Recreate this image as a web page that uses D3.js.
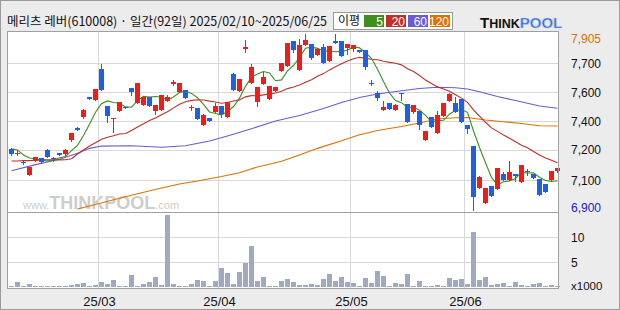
<!DOCTYPE html>
<html><head><meta charset="utf-8">
<script src="https://cdn.jsdelivr.net/npm/d3@7"></script>
<style>html,body{margin:0;padding:0;background:#ececec;}svg{display:block}</style>
</head><body>
<svg id="c" width="620" height="310"></svg>
<script>
// ---------- data ----------
const titleText = "메리츠 레버(610008) · 일간(92일) 2025/02/10~2025/06/25";
const maLabels = ["5", "20", "60", "120"];
const openP = [7250,7220,7175,7100,7180,7195,7245,7195,7225,7220,7300,7370,7430,7545,7530,7705,7495,7420,7465,7490,
7595,7510,7500,7545,7465,7470,7520,7620,7575,7585,7480,7480,7385,7425,7460,7495,7430,7675,7580,7820,
7625,7515,7620,7535,7580,7695,7725,7865,7700,7840,7850,7785,7830,7750,7865,7865,7825,7820,7815,7815,
7625,7570,7470,7510,7470,7570,7505,7460,7465,7300,7430,7340,7435,7525,7510,7535,7385,7265,7025,6940,
7035,7020,7105,7070,7105,7060,7125,7105,7075,7050,7070,7125];
const highP = [7255,7245,7180,7145,7205,7195,7250,7205,7225,7250,7340,7375,7475,7545,7590,7735,7495,7425,7515,7490,
7595,7625,7545,7545,7500,7555,7555,7640,7625,7585,7500,7480,7450,7425,7510,7495,7515,7680,7650,7870,
7735,7600,7690,7610,7605,7740,7855,7865,7875,7905,7850,7820,7850,7835,7905,7865,7850,7840,7815,7815,
7645,7580,7520,7510,7505,7570,7505,7500,7465,7350,7430,7465,7510,7570,7545,7535,7385,7265,7095,7025,
7035,7140,7115,7180,7105,7155,7135,7105,7075,7050,7125,7140];
const lowP = [7215,7215,7165,7100,7180,7170,7205,7180,7215,7215,7295,7355,7425,7535,7530,7585,7405,7345,7465,7485,
7555,7510,7500,7495,7450,7470,7520,7615,7575,7540,7470,7420,7385,7410,7460,7430,7430,7585,7580,7800,
7625,7495,7620,7535,7580,7695,7725,7805,7700,7840,7760,7785,7740,7750,7855,7780,7790,7810,7805,7705,
7615,7530,7470,7475,7470,7530,7405,7455,7360,7300,7375,7340,7435,7525,7460,7400,7340,6900,7025,6940,
6980,7020,7070,7070,7065,7060,7100,7080,6985,7005,7070,7115];
const closeP = [7220,7225,7170,7145,7205,7175,7205,7190,7215,7245,7340,7355,7470,7535,7590,7585,7435,7425,7515,7485,
7575,7625,7545,7495,7500,7555,7545,7630,7625,7540,7490,7420,7440,7410,7495,7450,7515,7585,7650,7830,
7715,7600,7660,7610,7605,7740,7855,7815,7840,7870,7770,7820,7740,7835,7855,7780,7850,7840,7805,7715,
7620,7540,7490,7475,7500,7560,7405,7500,7385,7350,7375,7440,7510,7560,7460,7400,7360,6975,7090,7025,
6980,7140,7070,7115,7095,7155,7120,7080,6985,7005,7125,7140];
const volume = [200,950,200,550,200,200,200,200,200,200,350,550,800,200,400,950,550,1350,200,200,
2350,200,550,950,1950,350,14500,550,200,200,550,1350,1150,200,1150,3750,2750,550,2950,4750,
8150,1150,1950,200,200,1150,1550,950,350,350,550,350,1550,2550,1150,1950,950,750,200,1750,
750,3150,2150,200,750,550,2550,200,1150,200,200,350,200,1750,1350,1550,550,10950,1350,1950,
350,550,750,200,950,350,200,550,750,200,350,200];
// moving-average values read where the window reaches before the shown period
const ma5Head = [7250,7243,7214,7197];
const ma20Head = [7180,7180,7182,7182,7184,7186,7186,7186,7186,7187,7193,7220,7243,7265,7284,7304,7315,7324,7334];
const ma60Idx = [0,4,8,11,13,15,20,25,29,33,36,40,44,48,52,55,58,61,65,68,71,74,76,78,81,84,88,91];
const ma60Val = [7124,7159,7190,7224,7252,7265,7267,7258,7267,7294,7323,7364,7408,7440,7480,7514,7542,7562,7581,7594,7601,7598,7591,7575,7548,7525,7494,7481];
const ma120Idx = [11,14,18,21,25,28,31,35,38,41,45,48,51,55,58,61,65,68,71,74,76,79,82,85,88,91];
const ma120Val = [6906,6931,6967,6993,7026,7048,7066,7091,7113,7146,7178,7214,7252,7296,7330,7354,7377,7397,7420,7427,7428,7414,7404,7394,7381,7380];
const monthLabels = ["25/03", "25/04", "25/05", "25/06"];
const monthStart = [15, 35, 57, 76];
const priceGridValues = [7738, 7572, 7408, 7243, 7071];
const priceTickLabels = ["7,700", "7,600", "7,400", "7,200", "7,100"];
const hiValue = 7905, hiLabel = "7,905";
const loValue = 6900, loLabel = "6,900";
const volTickValues = [10000, 5000];
const volTickLabels = ["10", "5"];
const volUnitLabel = "x1000";

// ---------- drawing ----------
const svg = d3.select("#c");
const n = closeP.length;
const x = d3.scaleLinear().domain([0, n - 1]).range([11.5, 557.5]);
const y = d3.scaleLinear().domain([loValue, hiValue]).range([210, 34]);
const yv = d3.scaleLinear().domain([0, 15000]).range([287, 212]);

const C = {up: "#f01c1c", down: "#1f5fe6", ma: ["#3f8f1f", "#c0302a", "#6a5ad8", "#e07000"], grid: "#d8d8d8", frame: "#a0a0a0", vol: "#a0a9c2"};

svg.append("rect").attr("x", 0.5).attr("y", 0.5).attr("width", 619).attr("height", 309).attr("fill", "#ececec").attr("stroke", "#9a9a9a");
svg.append("rect").attr("x", 7.5).attr("y", 31.5).attr("width", 551).attr("height", 257).attr("fill", "#fff");

// title
svg.append("text").attr("x", 7).attr("y", 26).attr("font-family", "'Noto Sans CJK KR', sans-serif").attr("font-size", 12.5)
  .attr("fill", "#111").attr("textLength", 320).attr("lengthAdjust", "spacingAndGlyphs").text(titleText);

// MA legend
const lg = svg.append("g");
lg.append("rect").attr("x", 333.5).attr("y", 12.5).attr("width", 119).attr("height", 17).attr("fill", "#fff").attr("stroke", "#999");
lg.append("text").attr("x", 338).attr("y", 25).attr("font-family", "'Noto Sans CJK KR', sans-serif").attr("font-size", 12).attr("fill", "#111").text("이평");
const boxX = [364, 386, 408, 430];
maLabels.forEach((t, k) => {
  lg.append("rect").attr("x", boxX[k]).attr("y", 15).attr("width", 20).attr("height", 12).attr("fill", C.ma[k]);
  lg.append("text").attr("x", boxX[k] + 19).attr("y", 25.5).attr("text-anchor", "end").attr("font-family", "'Liberation Sans', Arial, sans-serif")
    .attr("font-size", 12).attr("fill", "#fff").text(t);
});

// logo
const logo = svg.append("text").attr("x", 480).attr("y", 28).attr("font-family", "'Liberation Sans', Arial, sans-serif").attr("font-weight", "bold").attr("font-size", 15);
logo.append("tspan").attr("fill", "#111").attr("font-size", 15).text("T");
logo.append("tspan").attr("fill", "#111").attr("font-size", 12.5).text("HINK");
logo.append("tspan").attr("fill", "#2f68d6").attr("stroke", "#b9cdf2").attr("stroke-width", 0.6).attr("font-size", 15).text("POOL");

// watermark
const wm = svg.append("text").attr("x", 23).attr("y", 209).attr("font-family", "'Liberation Sans', Arial, sans-serif").attr("fill", "#cdcdcd");
wm.append("tspan").attr("font-size", 11).text("www.");
wm.append("tspan").attr("font-size", 18).attr("font-weight", "bold").text("THINKPOOL");
wm.append("tspan").attr("font-size", 11).text(".com");

// grid
const grid = svg.append("g").attr("stroke", C.grid).attr("stroke-width", 1).attr("shape-rendering", "crispEdges");
priceGridValues.forEach(v => grid.append("line").attr("x1", 8).attr("x2", 558).attr("y1", Math.round(y(v)) + 0.5).attr("y2", Math.round(y(v)) + 0.5));
volTickValues.forEach(v => grid.append("line").attr("x1", 8).attr("x2", 558).attr("y1", Math.round(yv(v)) + 0.5).attr("y2", Math.round(yv(v)) + 0.5));
monthStart.forEach(i => grid.append("line").attr("x1", x(i) - 3).attr("x2", x(i) - 3).attr("y1", 32).attr("y2", 288));

// clip for price panel
svg.append("clipPath").attr("id", "pc").append("rect").attr("x", 0).attr("y", 32).attr("width", 620).attr("height", 180);
const pg = svg.append("g").attr("clip-path", "url(#pc)");

// moving averages
const ma5 = closeP.map((c, i) => i < 4 ? ma5Head[i] : d3.mean(closeP.slice(i - 4, i + 1)));
const ma20 = closeP.map((c, i) => i < 19 ? ma20Head[i] : d3.mean(closeP.slice(i - 19, i + 1)));
const line = d3.line().x(d => x(d[0])).y(d => y(d[1]));
const series = [
  ma5.map((v, i) => [i, v]),
  ma20.map((v, i) => [i, v]),
  ma60Idx.map((i, k) => [i, ma60Val[k]]),
  ma120Idx.map((i, k) => [i, ma120Val[k]])
];
[3, 2, 1, 0].forEach(k => pg.append("path").attr("d", line(series[k])).attr("fill", "none").attr("stroke", C.ma[k]).attr("stroke-width", 1.1));

// candles
d3.range(n).forEach(i => {
  const up = closeP[i] >= openP[i];
  const col = up ? C.up : C.down;
  const top = Math.round(y(Math.max(openP[i], closeP[i])));
  const bot = Math.round(y(Math.min(openP[i], closeP[i])));
  pg.append("line").attr("x1", x(i)).attr("x2", x(i)).attr("y1", Math.round(y(highP[i]))).attr("y2", Math.round(y(lowP[i])) + 1)
    .attr("stroke", col).attr("stroke-width", 1).attr("shape-rendering", "crispEdges");
  pg.append("rect").attr("x", x(i) - 2.5).attr("y", top).attr("width", 5).attr("height", Math.max(1, bot - top))
    .attr("fill", col).attr("shape-rendering", "crispEdges");
});

// volume
svg.append("g").selectAll("rect").data(volume).join("rect")
  .attr("x", (d, i) => x(i) - 2.5).attr("width", 5)
  .attr("y", d => Math.round(yv(d))).attr("height", d => Math.max(1, 287 - Math.round(yv(d))))
  .attr("fill", C.vol).attr("shape-rendering", "crispEdges");

// frame
const fr = svg.append("g").attr("fill", "none").attr("stroke", C.frame).attr("shape-rendering", "crispEdges");
fr.append("rect").attr("x", 7.5).attr("y", 31.5).attr("width", 551).attr("height", 257);
fr.append("line").attr("x1", 7.5).attr("x2", 558.5).attr("y1", 212.5).attr("y2", 212.5);

// right axis labels
const axf = "'Liberation Sans', Arial, sans-serif";
const ax = svg.append("g").attr("font-family", axf).attr("font-size", 12);
priceGridValues.forEach((v, k) => ax.append("text").attr("x", 571).attr("y", y(v) + 4.5).attr("fill", "#111").text(priceTickLabels[k]));
ax.append("text").attr("x", 571).attr("y", y(hiValue) + 8.5).attr("fill", "#e07000").text(hiLabel);
ax.append("text").attr("x", 571).attr("y", y(loValue) + 1.5).attr("fill", "#1a1acc").text(loLabel);
volTickValues.forEach((v, k) => ax.append("text").attr("x", 571).attr("y", yv(v) + 5).attr("fill", "#111").text(volTickLabels[k]));
ax.append("text").attr("x", 571).attr("y", 290).attr("fill", "#111").attr("font-size", 11.5).text(volUnitLabel);

// month labels
monthStart.forEach((i, k) => svg.append("text").attr("x", x(i) - 2).attr("y", 306).attr("text-anchor", "middle")
  .attr("font-family", axf).attr("font-size", 13).attr("fill", "#111").text(monthLabels[k]));
</script>
</body></html>
